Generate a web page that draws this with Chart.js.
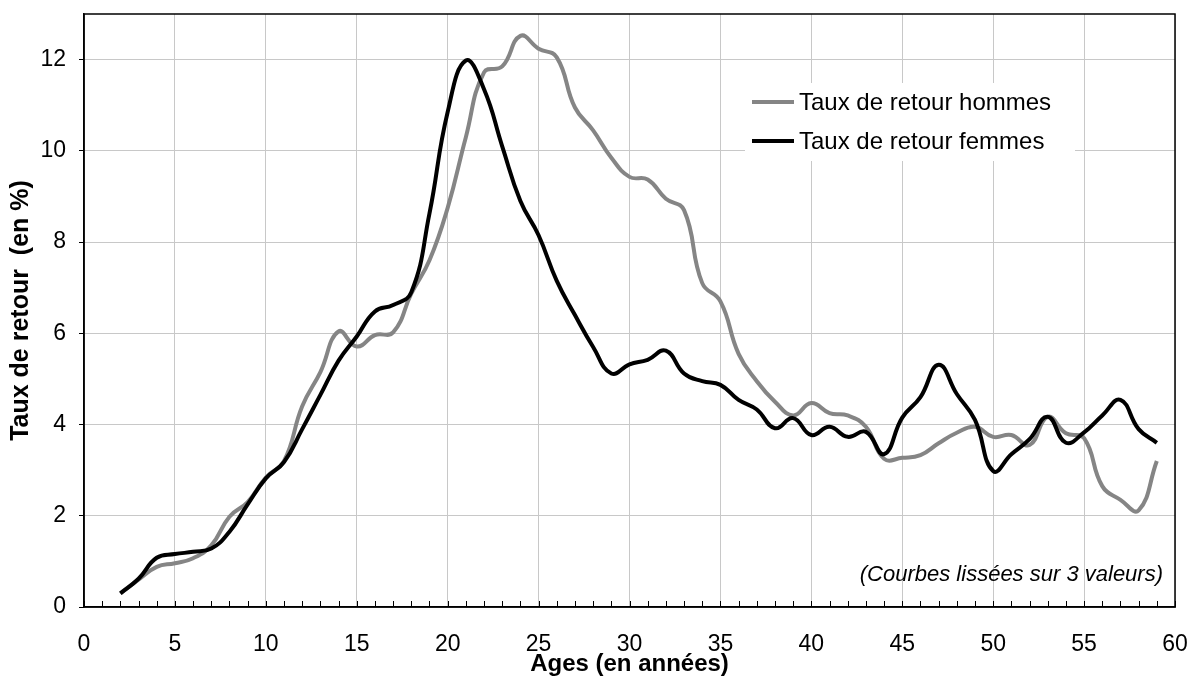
<!DOCTYPE html>
<html lang="fr">
<head>
<meta charset="utf-8">
<title>Taux de retour par âge</title>
<script src="https://cdn.jsdelivr.net/npm/chart.js@4.4.1/dist/chart.umd.min.js"></script>
<style>
  html, body { margin: 0; padding: 0; background: #fff; }
  #wrap { width: 1193px; height: 684px; }
</style>
</head>
<body>
<div id="wrap"><canvas id="chart" width="1193" height="684"></canvas></div>
<script>
// données (taux en %)
const ages = [2, 3, 4, 5, 6, 7, 8, 9, 10, 11, 12, 13, 14, 15, 16, 17, 18, 19, 20, 21,
    22, 23, 24, 25, 26, 27, 28, 29, 30, 31, 32, 33, 34, 35, 36, 37, 38, 39, 40, 41,
    42, 43, 44, 45, 46, 47, 48, 49, 50, 51, 52, 53, 54, 55, 56, 57, 58, 59];

const tauxHommes = [0.30, 0.60, 0.88, 0.96, 1.07, 1.35, 1.98, 2.30, 2.84, 3.20,
    4.40, 5.15, 6.04, 5.71, 5.96, 6.02, 6.87, 7.60, 8.75, 10.30,
    11.72, 11.85, 12.52, 12.24, 12.05, 10.95, 10.45, 9.85, 9.43, 9.37,
    8.95, 8.70, 7.10, 6.70, 5.55, 4.95, 4.50, 4.20, 4.47, 4.25,
    4.20, 3.95, 3.25, 3.27, 3.33, 3.59, 3.82, 3.95, 3.73, 3.77,
    3.55, 4.17, 3.81, 3.70, 2.65, 2.35, 2.12, 3.20];

const tauxFemmes = [0.30, 0.62, 1.08, 1.16, 1.21, 1.28, 1.65, 2.25, 2.82, 3.18,
    3.90, 4.65, 5.40, 5.93, 6.48, 6.62, 6.90, 8.63, 10.85, 11.98,
    11.35, 10.10, 8.90, 8.15, 7.15, 6.40, 5.70, 5.12, 5.32, 5.42,
    5.62, 5.12, 4.95, 4.87, 4.54, 4.33, 3.92, 4.14, 3.77, 3.95,
    3.73, 3.84, 3.35, 4.15, 4.60, 5.31, 4.67, 4.10, 2.98, 3.35,
    3.68, 4.17, 3.60, 3.83, 4.20, 4.54, 3.90, 3.60];

const xTickLabels = [0, 5, 10, 15, 20, 25, 30, 35, 40, 45, 50, 55, 60];
const yTickLabels = [0, 2, 4, 6, 8, 10, 12];

const seriesLabels = ['Taux de retour hommes', 'Taux de retour femmes'];
const seriesColors = ['#858585', '#000000'];
const noteText = '(Courbes lissées sur 3 valeurs)';

const FONT = '"Liberation Sans", Arial, Helvetica, sans-serif';

// fond blanc, cadre, petites graduations, légende et note
const decorPlugin = {
    id: 'decor',
    beforeDraw(chart) {
        const ctx = chart.ctx;
        ctx.save();
        ctx.fillStyle = '#ffffff';
        ctx.fillRect(0, 0, chart.width, chart.height);
        ctx.restore();
    },
    afterDraw(chart) {
        const ctx = chart.ctx;
        const area = chart.chartArea;
        const xScale = chart.scales.x;
        ctx.save();

        // cadre de la zone de tracé
        ctx.strokeStyle = '#000000';
        ctx.lineWidth = 1.5;
        ctx.strokeRect(area.left, area.top, area.right - area.left, area.bottom - area.top);

        // graduations secondaires (vers l'intérieur)
        ctx.lineWidth = 1;
        ctx.beginPath();
        for (let a = xScale.min; a <= xScale.max; a++) {
            const px = Math.round(xScale.getPixelForValue(a)) + 0.5;
            ctx.moveTo(px, area.bottom);
            ctx.lineTo(px, area.bottom - 6);
        }
        ctx.stroke();

        // légende
        const boxX = 745, boxY = 83, boxW = 330, boxH = 78;
        ctx.fillStyle = '#ffffff';
        ctx.fillRect(boxX, boxY, boxW, boxH);
        ctx.font = '24px ' + FONT;
        ctx.textBaseline = 'middle';
        ctx.textAlign = 'left';
        seriesLabels.forEach((label, i) => {
            const y = 102 + i * 39;
            ctx.strokeStyle = seriesColors[i];
            ctx.lineWidth = 4;
            ctx.beginPath();
            ctx.moveTo(752, y);
            ctx.lineTo(794, y);
            ctx.stroke();
            ctx.fillStyle = '#000000';
            ctx.fillText(label, 799, y + 1);
        });

        // note en bas à droite
        ctx.font = 'italic 22px ' + FONT;
        ctx.textAlign = 'right';
        ctx.textBaseline = 'alphabetic';
        ctx.fillText(noteText, 1163, 581);

        ctx.restore();
    }
};

const chart = new Chart(document.getElementById('chart'), {
    type: 'line',
    data: {
        labels: ages,
        datasets: [
            {
                label: seriesLabels[0],
                data: ages.map((a, i) => ({ x: a, y: tauxHommes[i] })),
                borderColor: seriesColors[0],
                borderWidth: 4,
                pointRadius: 0,
                tension: 0.45,
                order: 1
            },
            {
                label: seriesLabels[1],
                data: ages.map((a, i) => ({ x: a, y: tauxFemmes[i] })),
                borderColor: seriesColors[1],
                borderWidth: 4,
                pointRadius: 0,
                tension: 0.45,
                order: 0
            }
        ]
    },
    options: {
        responsive: false,
        animation: false,
        devicePixelRatio: 1,
        layout: { padding: { left: 0, right: 18, top: 14, bottom: 0 } },
        plugins: {
            legend: { display: false },
            tooltip: { enabled: false }
        },
        scales: {
            x: {
                type: 'linear',
                min: 0,
                max: 60,
                afterBuildTicks: scale => { scale.ticks = xTickLabels.map(v => ({ value: v })); },
                afterFit: scale => {
                    scale.height = 77;
                    scale.paddingLeft = 0;
                    scale.paddingRight = 0;
                },
                grid: { color: '#c8c8c8', lineWidth: 1, drawTicks: false },
                border: { color: '#000000', width: 1.5 },
                ticks: { color: '#000000', font: { family: FONT, size: 23 }, padding: 24, maxRotation: 0 },
                title: {
                    display: true,
                    text: 'Ages (en années)',
                    color: '#000000',
                    font: { family: FONT, size: 24, weight: 'bold' },
                    padding: { top: 0, bottom: 5 }
                }
            },
            y: {
                min: 0,
                max: 13,
                afterBuildTicks: scale => { scale.ticks = yTickLabels.map(v => ({ value: v })); },
                afterFit: scale => {
                    scale.width = 84;
                    scale.paddingTop = 0;
                    scale.paddingBottom = 0;
                },
                grid: { color: '#c8c8c8', lineWidth: 1, tickLength: 5, tickColor: '#000000' },
                border: { color: '#000000', width: 1.5 },
                ticks: { color: '#000000', font: { family: FONT, size: 23 }, padding: 13 },
                title: {
                    display: true,
                    text: 'Taux de retour  (en %)',
                    color: '#000000',
                    font: { family: FONT, size: 25, weight: 'bold' },
                    padding: { top: 6, bottom: 0 }
                }
            }
        }
    },
    plugins: [decorPlugin]
});
</script>
</body>
</html>
